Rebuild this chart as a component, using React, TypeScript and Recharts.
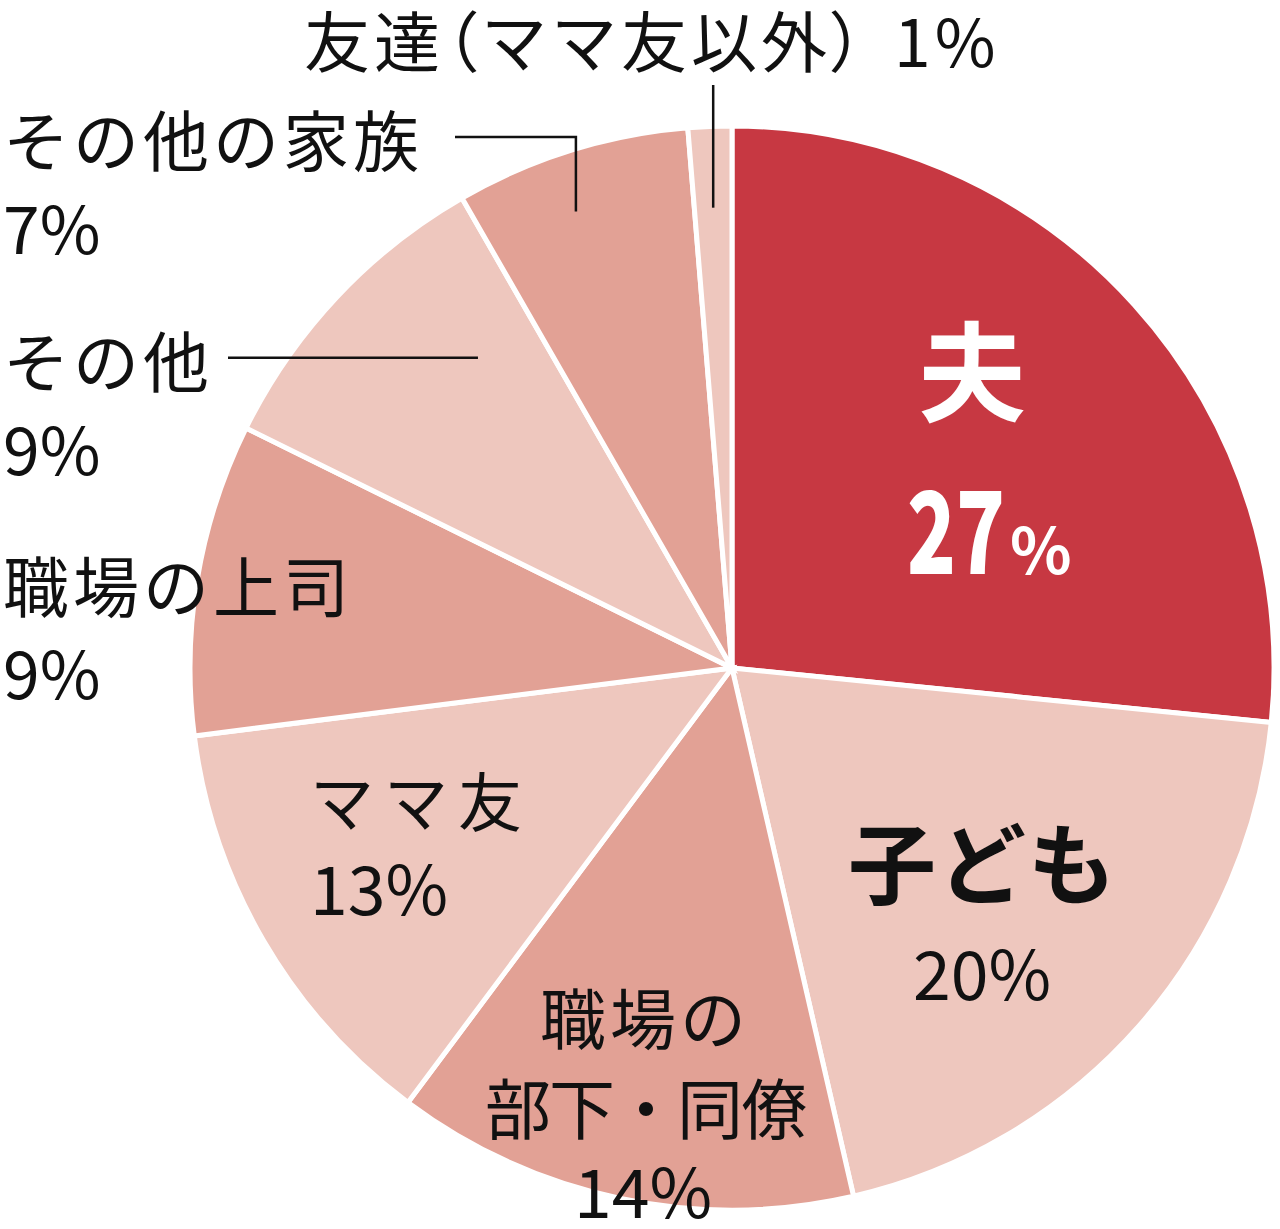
import { PieChart, Pie, Cell } from "recharts";

// slices clockwise from 12 o'clock
const categories = [
  "夫",
  "子ども",
  "職場の部下・同僚",
  "ママ友",
  "職場の上司",
  "その他",
  "その他の家族",
  "友達（ママ友以外）",
];
const shares = [26.6, 19.8, 13.8, 12.8, 9.3, 9.4, 7.0, 1.3];
const percentLabels = ["27%", "20%", "14%", "13%", "9%", "9%", "7%", "1%"];

const DARK = "#C73842";
const MID = "#E2A195";
const LIGHT = "#EEC7BE";
const palette = [DARK, LIGHT, MID, LIGHT, MID, LIGHT, MID, LIGHT];

const data = categories.map((name, i) => ({ name, value: shares[i] }));

const FONT = '"Noto Sans CJK JP", "Noto Sans", sans-serif';
const INK = "#111";
const RAD = Math.PI / 180;

const polar = (cx: number, cy: number, r: number, angle: number) => ({
  x: cx + r * Math.cos(-angle * RAD),
  y: cy + r * Math.sin(-angle * RAD),
});

function T({
  x,
  y,
  size = 66,
  weight = 400,
  fill = INK,
  anchor = "start",
  spacing = 4,
  children,
}: any) {
  return (
    <text
      x={x}
      y={y}
      fontSize={size}
      fontFamily={FONT}
      fontWeight={weight}
      fill={fill}
      textAnchor={anchor}
      dominantBaseline="central"
      letterSpacing={spacing}
    >
      {children}
    </text>
  );
}

const lineStyle = { stroke: INK, strokeWidth: 2.5, fill: "none" };

function renderLabel(p: any) {
  const { cx, cy, outerRadius, midAngle, index } = p;
  const pct = percentLabels[index];
  switch (index) {
    case 0:
      return (
        <g key="l0">
          <T x={972} y={366} size={108} weight={700} fill="#fff" anchor="middle" spacing={0}>
            {categories[0]}
          </T>
          <text
            x={907}
            y={524}
            fontSize={114}
            fontFamily={FONT}
            fontWeight={900}
            fill="#fff"
            dominantBaseline="central"
            textLength={98}
            lengthAdjust="spacingAndGlyphs"
          >
            {pct.replace("%", "")}
          </text>
          <T x={1010} y={546} size={64} weight={700} fill="#fff" spacing={0}>
            %
          </T>
        </g>
      );
    case 1:
      return (
        <g key="l1">
          <T x={983} y={858} size={88} weight={700} anchor="middle" spacing={2}>
            {categories[1]}
          </T>
          <T x={982} y={970} size={68} anchor="middle" spacing={0}>
            {pct}
          </T>
        </g>
      );
    case 2:
      return (
        <g key="l2">
          <T x={645} y={1015} size={66} anchor="middle" spacing={4}>
            職場の
          </T>
          <T x={645} y={1105} size={66} anchor="middle" spacing={-2}>
            部下・同僚
          </T>
          <T x={643} y={1188} size={68} anchor="middle" spacing={0}>
            {pct}
          </T>
        </g>
      );
    case 3:
      return (
        <g key="l3">
          <T x={310} y={798} size={64} spacing={10}>
            {categories[3]}
          </T>
          <T x={310} y={885} size={68} spacing={0}>
            {pct}
          </T>
        </g>
      );
    case 4:
      return (
        <g key="l4">
          <T x={3} y={583}>{categories[4]}</T>
          <T x={3} y={670} size={66} spacing={0}>
            {pct}
          </T>
        </g>
      );
    case 5: {
      const a = polar(cx, cy, outerRadius * 0.74, midAngle - 7.5);
      return (
        <g key="l5">
          <T x={3} y={358}>{categories[5]}</T>
          <T x={3} y={446} size={66} spacing={0}>
            {pct}
          </T>
          <path d={`M228,${a.y}H${a.x}`} {...lineStyle} />
        </g>
      );
    }
    case 6: {
      const a = polar(cx, cy, outerRadius * 0.89, midAngle + 1.6);
      return (
        <g key="l6">
          <T x={3} y={137}>{categories[6]}</T>
          <T x={3} y={225} size={66} spacing={0}>
            {pct}
          </T>
          <path d={`M455,137H${a.x}V${a.y}`} {...lineStyle} />
        </g>
      );
    }
    case 7: {
      const a = polar(cx, cy, outerRadius * 0.85, midAngle);
      return (
        <g key="l7">
          <T x={304} y={38}>
            友達
            <tspan style={{ fontFeatureSettings: '"palt"' }}>（</tspan>
            ママ友以外
            <tspan style={{ fontFeatureSettings: '"palt"' }}>）</tspan>
            <tspan dx={26}>{pct}</tspan>
          </T>
          <path d={`M${a.x},85V${a.y}`} {...lineStyle} />
        </g>
      );
    }
    default:
      return null;
  }
}

export default function App() {
  return (
    <div style={{ width: 1280, height: 1229, background: "#fff" }}>
      <style>{`body{margin:0}`}</style>
      <PieChart width={1280} height={1229} margin={{ top: 0, right: 0, bottom: 0, left: 0 }}>
        <Pie
          data={data}
          dataKey="value"
          nameKey="name"
          cx={732}
          cy={668}
          outerRadius={542}
          startAngle={90}
          endAngle={-270}
          stroke="#fff"
          strokeWidth={5}
          label={renderLabel}
          labelLine={false}
          isAnimationActive={false}
        >
          {data.map((d, i) => (
            <Cell key={d.name} fill={palette[i]} />
          ))}
        </Pie>
      </PieChart>
    </div>
  );
}
